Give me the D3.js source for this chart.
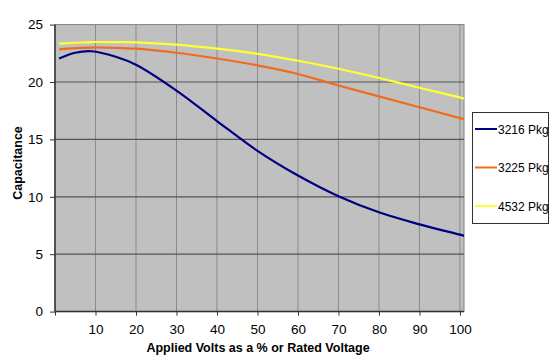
<!DOCTYPE html>
<html>
<head>
<meta charset="utf-8">
<script src="https://cdn.jsdelivr.net/npm/d3@7"></script>
<style>
  body { margin: 0; background: #fff; }
  text { font-family: "Liberation Sans", Arial, sans-serif; }
</style>
</head>
<body>
<div id="chartArea"></div>
<script>
// values
const voltsPct = [1, 5, 9, 15, 20, 30, 40, 50, 60, 70, 80, 90, 100, 101];
const pkg3216 = [22.05, 22.55, 22.68, 22.2, 21.5, 19.25, 16.6, 14.0, 11.85, 10.05, 8.65, 7.6, 6.7, 6.6];
const pkg3225 = [22.85, 22.95, 23.0, 22.98, 22.9, 22.55, 22.05, 21.45, 20.7, 19.7, 18.75, 17.8, 16.85, 16.75];
const pkg4532 = [23.35, 23.42, 23.48, 23.47, 23.45, 23.25, 22.9, 22.45, 21.85, 21.15, 20.35, 19.5, 18.65, 18.55];
const seriesNames = ["3216 Pkg", "3225 Pkg", "4532 Pkg"];
const seriesColors = ["#000080", "#f26b1d", "#ffff33"];
const xTicks = [0, 10, 20, 30, 40, 50, 60, 70, 80, 90, 100];
const yTicks = [0, 5, 10, 15, 20, 25];

const width = 550, height = 364;
const plot = {left: 55, top: 24.6, right: 464, bottom: 311.6};

makeChart();

function makeChart(){
    const svg = d3.select("#chartArea")
        .append("svg")
        .attr("width", width)
        .attr("height", height);

    const x = d3.scaleLinear().domain([0, 101]).range([plot.left, plot.right]);
    const y = d3.scaleLinear().domain([0, 25]).range([plot.bottom, plot.top]);

    // plot background
    svg.append("rect")
        .attr("x", plot.left).attr("y", plot.top)
        .attr("width", plot.right - plot.left)
        .attr("height", plot.bottom - plot.top)
        .attr("fill", "#c0c0c0")
        .attr("stroke", "#808080")
        .attr("stroke-width", 1);

    // vertical grid
    svg.selectAll(".vgrid")
        .data(xTicks.filter(d => d > 0))
        .enter()
        .append("line")
        .attr("x1", d => x(d)).attr("x2", d => x(d))
        .attr("y1", plot.top).attr("y2", plot.bottom)
        .attr("stroke", "#8a8a8a")
        .attr("stroke-width", 1);

    // horizontal grid
    svg.selectAll(".hgrid")
        .data(yTicks.filter(d => d > 0 && d < 25))
        .enter()
        .append("line")
        .attr("x1", plot.left).attr("x2", plot.right)
        .attr("y1", d => y(d)).attr("y2", d => y(d))
        .attr("stroke", "#555")
        .attr("stroke-width", 1.2);

    // axes
    const xAxis = d3.axisBottom(x)
        .tickValues(xTicks)
        .tickSize(4)
        .tickPadding(9)
        .tickFormat(d => d === 0 ? "" : d);
    const gx = svg.append("g")
        .attr("transform", "translate(0," + plot.bottom + ")")
        .call(xAxis);
    gx.select(".domain").attr("d", "M" + plot.left + ",0H" + plot.right).attr("stroke", "#333").attr("stroke-width", 1.5);
    gx.selectAll(".tick line").attr("stroke", "#333");
    gx.selectAll("text").attr("font-size", 13.5).attr("fill", "#000");

    const yAxis = d3.axisLeft(y)
        .tickValues(yTicks)
        .tickSize(5)
        .tickPadding(7);
    const gy = svg.append("g")
        .attr("transform", "translate(" + plot.left + ",0)")
        .call(yAxis);
    gy.select(".domain").attr("d", "M0," + plot.top + "V" + plot.bottom).attr("stroke", "#333").attr("stroke-width", 1.5);
    gy.selectAll(".tick line").attr("stroke", "#333");
    gy.selectAll("text").attr("font-size", 13.5).attr("fill", "#000");

    // lines
    const allSeries = [pkg3216, pkg3225, pkg4532];
    const line = d3.line()
        .x((d, i) => x(voltsPct[i]))
        .y(d => y(d))
        .curve(d3.curveCatmullRom.alpha(0.5));

    svg.selectAll(".series")
        .data(allSeries)
        .enter()
        .append("path")
        .attr("d", d => line(d))
        .attr("fill", "none")
        .attr("stroke", (d, i) => seriesColors[i])
        .attr("stroke-width", 2.2);

    // axis titles
    svg.append("text")
        .attr("x", 258).attr("y", 352)
        .attr("text-anchor", "middle")
        .attr("font-size", 12.5)
        .attr("font-weight", "bold")
        .text("Applied Volts as a % or Rated Voltage");

    svg.append("text")
        .attr("transform", "translate(22,163) rotate(-90)")
        .attr("text-anchor", "middle")
        .attr("font-size", 12.5)
        .attr("font-weight", "bold")
        .text("Capacitance");

    // legend
    const legend = svg.append("g");
    legend.append("rect")
        .attr("x", 472.5).attr("y", 112.5)
        .attr("width", 76).attr("height", 111)
        .attr("fill", "#fff")
        .attr("stroke", "#333")
        .attr("stroke-width", 1);

    const items = legend.selectAll(".item")
        .data(seriesNames)
        .enter()
        .append("g")
        .attr("transform", (d, i) => "translate(0," + (129 + i * 38.5) + ")");
    items.append("line")
        .attr("x1", 475).attr("x2", 497)
        .attr("stroke", (d, i) => seriesColors[i])
        .attr("stroke-width", 2);
    items.append("text")
        .attr("x", 498).attr("y", 4.5)
        .attr("font-size", 12)
        .text(d => d);
}
</script>
</body>
</html>
